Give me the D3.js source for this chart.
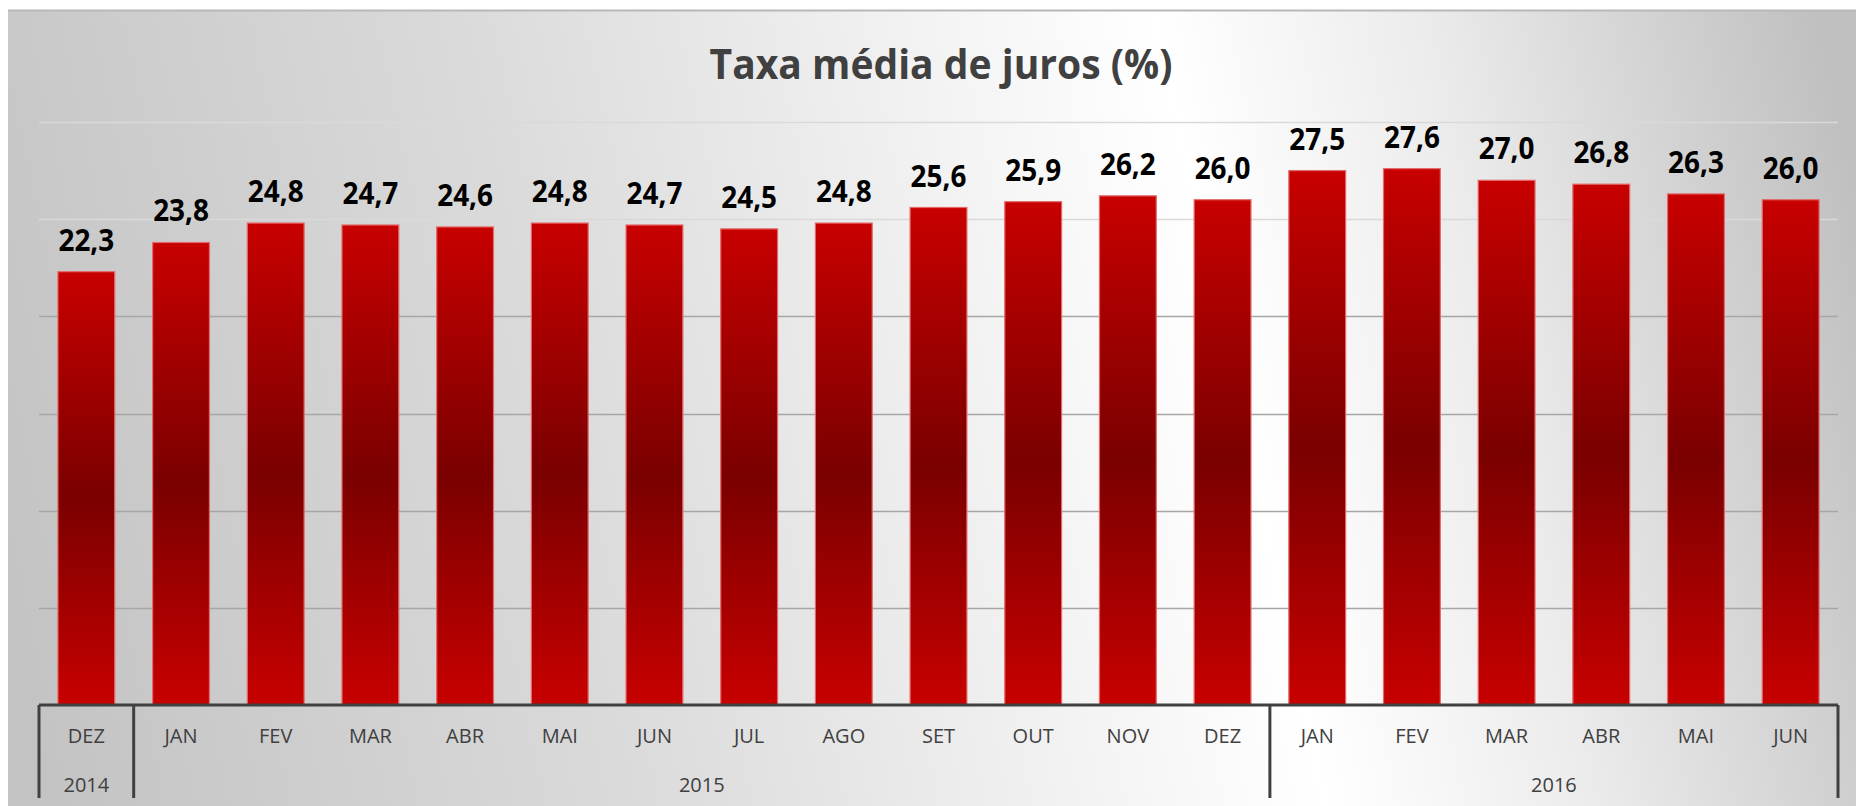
<!DOCTYPE html>
<html lang="pt">
<head>
<meta charset="utf-8">
<title>Taxa média de juros (%)</title>
<script src="https://d3js.org/d3.v7.min.js"></script>
<style>
  body { margin: 0; background: #fff; }
  svg { display: block; font-family: "Open Sans", sans-serif; }
</style>
</head>
<body>
<div id="chart"></div>
<script>
// data
var months = ["DEZ","JAN","FEV","MAR","ABR","MAI","JUN","JUL","AGO","SET","OUT","NOV","DEZ","JAN","FEV","MAR","ABR","MAI","JUN"];
var years  = ["2014","2015","2015","2015","2015","2015","2015","2015","2015","2015","2015","2015","2015","2016","2016","2016","2016","2016","2016"];
var values = [22.3,23.8,24.8,24.7,24.6,24.8,24.7,24.5,24.8,25.6,25.9,26.2,26.0,27.5,27.6,27.0,26.8,26.3,26.0];
var yearGroups = ["2014","2015","2016"];
var yTicks = [5,10,15,20,25,30];

var width = 1856, height = 806;
var plotLeft = 39, plotRight = 1838, plotTop = 122, plotBottom = 705;

var keys = months.map(function(m, i) { return m + " " + years[i]; });

var svg = d3.select("#chart").append("svg")
    .attr("width", width)
    .attr("height", height);

var defs = svg.append("defs");

// background: grey - white - grey, slightly tilted
var bg = defs.append("linearGradient")
    .attr("id", "bg")
    .attr("gradientUnits", "userSpaceOnUse")
    .attr("x1", 0).attr("y1", 600)
    .attr("x2", 1856).attr("y2", 200);
[[0, "#c3c3c3"], [0.3, "#dadada"], [0.55, "#f4f4f4"], [0.66, "#ffffff"], [0.8, "#ebebeb"], [1, "#c0c0c0"]]
  .forEach(function(s) { bg.append("stop").attr("offset", s[0]).attr("stop-color", s[1]); });

// bars: bright red at the ends, dark in the middle
var barGrad = defs.append("linearGradient")
    .attr("id", "bar")
    .attr("x1", 0).attr("y1", 0)
    .attr("x2", 0).attr("y2", 1);
barGrad.append("stop").attr("offset", 0).attr("stop-color", "#c80000");
barGrad.append("stop").attr("offset", 0.52).attr("stop-color", "#7a0000");
barGrad.append("stop").attr("offset", 1).attr("stop-color", "#c80000");

svg.append("rect")
    .attr("x", 8).attr("y", 10)
    .attr("width", width - 8).attr("height", height - 10)
    .attr("fill", "url(#bg)");
svg.append("line")
    .attr("x1", 8).attr("x2", width)
    .attr("y1", 10.5).attr("y2", 10.5)
    .attr("stroke", "#b8b8b8")
    .attr("stroke-width", 2);

// scales
var x = d3.scaleBand()
    .domain(keys)
    .range([plotLeft, plotRight])
    .paddingInner(0.4)
    .paddingOuter(0.2);

var y = d3.scaleLinear()
    .domain([0, 30])
    .range([plotBottom, plotTop]);

// gridlines
svg.append("g")
  .selectAll("line")
  .data(yTicks)
  .enter()
  .append("line")
    .attr("x1", plotLeft).attr("x2", plotRight)
    .attr("y1", function(d) { return Math.round(y(d)) + 0.5; })
    .attr("y2", function(d) { return Math.round(y(d)) + 0.5; })
    .attr("stroke", function(d) { return d >= 25 ? "#d9d9d9" : "#a6a6a6"; })
    .attr("stroke-width", 1.5);

// title (squeezed a little to get closer to the narrow original face)
svg.append("text")
    .attr("transform", "translate(941,79) scale(0.93,1)")
    .attr("text-anchor", "middle")
    .attr("font-size", "42px")
    .attr("font-weight", "bold")
    .attr("fill", "#404040")
    .text("Taxa média de juros (%)");

// bars
svg.append("g")
  .selectAll("rect")
  .data(values)
  .enter()
  .append("rect")
    .attr("x", function(d, i) { return x(keys[i]); })
    .attr("y", function(d) { return y(d); })
    .attr("width", x.bandwidth())
    .attr("height", function(d) { return y(0) - y(d); })
    .attr("fill", "url(#bar)")
    .attr("stroke", "#e46a6a")
    .attr("stroke-width", 1.2);

// value labels
svg.append("g")
  .selectAll("text")
  .data(values)
  .enter()
  .append("text")
    .attr("transform", function(d, i) {
      return "translate(" + (x(keys[i]) + x.bandwidth() / 2) + "," + (y(d) - 21) + ") scale(0.9,1)";
    })
    .attr("text-anchor", "middle")
    .attr("font-size", "31px")
    .attr("font-weight", "bold")
    .attr("fill", "#000")
    .text(function(d) { return d.toFixed(1).replace(".", ","); });

// category axis: months, then years
var axis = svg.append("g");
axis.append("line")
    .attr("x1", plotLeft).attr("x2", plotRight)
    .attr("y1", plotBottom).attr("y2", plotBottom)
    .attr("stroke", "#404040")
    .attr("stroke-width", 3);

axis.selectAll("text.month")
  .data(months)
  .enter()
  .append("text")
    .attr("class", "month")
    .attr("x", function(d, i) { return x(keys[i]) + x.bandwidth() / 2; })
    .attr("y", 743)
    .attr("text-anchor", "middle")
    .attr("font-size", "20px")
    .attr("fill", "#404040")
    .text(function(d) { return d; });

var step = x.step(), half = step * x.paddingInner() / 2;
var spans = yearGroups.map(function(yr) {
  var idx = years.map(function(v, i) { return v === yr ? i : -1; }).filter(function(i) { return i >= 0; });
  var x0 = x(keys[idx[0]]) - half;
  var x1 = x(keys[idx[idx.length - 1]]) + x.bandwidth() + half;
  return { year: yr, x0: x0, x1: x1 };
});

var edges = [spans[0].x0].concat(spans.map(function(s) { return s.x1; }));
axis.selectAll("line.div")
  .data(edges)
  .enter()
  .append("line")
    .attr("class", "div")
    .attr("x1", function(d) { return d; }).attr("x2", function(d) { return d; })
    .attr("y1", plotBottom).attr("y2", 798)
    .attr("stroke", "#404040")
    .attr("stroke-width", 3);

axis.selectAll("text.year")
  .data(spans)
  .enter()
  .append("text")
    .attr("class", "year")
    .attr("x", function(d) { return (d.x0 + d.x1) / 2; })
    .attr("y", 792)
    .attr("text-anchor", "middle")
    .attr("font-size", "20px")
    .attr("fill", "#404040")
    .text(function(d) { return d.year; });
</script>
</body>
</html>
